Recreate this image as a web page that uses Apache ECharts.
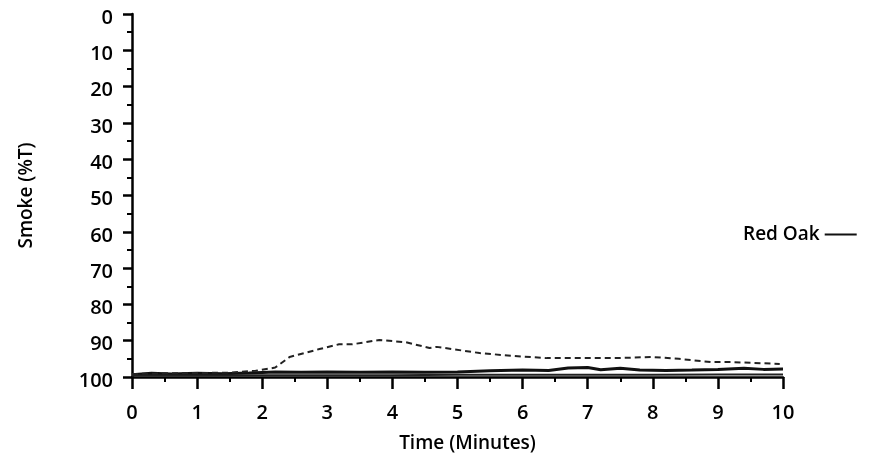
<!DOCTYPE html>
<html><head><meta charset="utf-8">
<script src="https://cdn.jsdelivr.net/npm/echarts@6/dist/echarts.min.js"></script>
<style>html,body{margin:0;padding:0;background:#fff}#c{width:887px;height:466px}</style>
</head><body><div id="c"></div>
<script>
var xTicks = [0,1,2,3,4,5,6,7,8,9,10];
var yTicks = [0,10,20,30,40,50,60,70,80,90,100];
var seriesName = 'Red Oak';
// solid line (Red Oak)
var solidX = [0,0.3,0.6,1,1.4,1.8,2.2,2.6,3,3.5,4,4.5,5,5.5,6,6.4,6.7,7,7.2,7.5,7.8,8.2,8.6,9,9.4,9.7,10];
var solidY = [99.4,99,99.2,99,99.1,98.9,98.6,98.7,98.6,98.7,98.6,98.7,98.6,98.3,98.1,98.2,97.5,97.4,98.0,97.6,98.1,98.2,98.1,97.9,97.6,97.9,97.8];
// second solid trace near baseline
var baseX = [0,1,2,3,4,5,6,7,8,9,10];
var baseY = [99.6,99.6,99.5,99.5,99.5,99.4,99.4,99.4,99.4,99.3,99.3];
// dashed line
var dashX = [0,0.5,1,1.5,1.9,2.2,2.42,2.88,3.18,3.38,3.8,4.2,4.57,4.68,5.34,5.85,6.37,7.0,7.4,8.0,8.4,8.9,9.2,9.95];
var dashY = [99.2,99,98.9,98.8,98.3,97.4,94.5,92.3,91,91,89.8,90.4,92,91.7,93.4,94.2,94.8,94.8,94.8,94.5,95,95.9,95.9,96.4];

function pairs(xs, ys){ return xs.map(function(x,i){return [x, ys[i]];}); }
var FONT = 'Open Sans';
var TXT = '#000';
var W = 600;
var chart = echarts.init(document.getElementById('c'));
chart.setOption({
  animation: false,
  backgroundColor: '#fff',
  grid: {left: 132, right: 104, top: 14, bottom: 89},
  legend: {
    data: [seriesName], left: 738, top: 220, align: 'right',
    icon: 'rect', itemWidth: 32, itemHeight: 2, itemGap: 6,
    textStyle: {fontFamily: FONT, fontSize: 19, fontWeight: W, color: TXT}
  },
  xAxis: {
    type: 'value', min: 0, max: 10, interval: 1, position: 'bottom',
    name: 'Time (Minutes)', nameLocation: 'middle', nameGap: 57,
    nameTextStyle: {fontFamily: FONT, fontSize: 19, fontWeight: W, color: TXT, padding: [0,0,0,20]},
    axisLine: {show: true, onZero: false, lineStyle: {color: '#000', width: 2.5}},
    axisTick: {show: true, length: 12, lineStyle: {color: '#000', width: 2.5}},
    minorTick: {show: true, splitNumber: 2, length: 5, lineStyle: {color: '#000', width: 2}},
    splitLine: {show: false},
    axisLabel: {margin: 26, fontFamily: FONT, fontSize: 20, fontWeight: W, color: TXT,
      formatter: function(v){ return xTicks.indexOf(v) >= 0 ? String(v) : ''; }}
  },
  yAxis: {
    type: 'value', min: 0, max: 100, interval: 10, inverse: true,
    name: 'Smoke (%T)', nameLocation: 'middle', nameGap: 96,
    nameTextStyle: {fontFamily: FONT, fontSize: 19, fontWeight: W, color: TXT},
    axisLine: {show: true, onZero: false, lineStyle: {color: '#000', width: 2.5}},
    axisTick: {show: true, length: 9, lineStyle: {color: '#000', width: 2.5}},
    minorTick: {show: true, splitNumber: 2, length: 5, lineStyle: {color: '#000', width: 2}},
    splitLine: {show: false},
    axisLabel: {margin: 19, color: TXT,
      formatter: function(v){ return yTicks.indexOf(v) >= 0 ? '{a|' + v + '}' : ''; },
      rich: {a: {fontFamily: FONT, fontSize: 20, fontWeight: W, color: TXT, padding: [8,0,0,0]}}}
  },
  series: [
    {name: seriesName, type: 'line', data: pairs(solidX, solidY), symbol: 'none',
     lineStyle: {color: '#111', width: 3}, itemStyle: {color: '#111'}},
    {name: 'base', type: 'line', data: pairs(baseX, baseY), symbol: 'none',
     lineStyle: {color: '#222', width: 2}, itemStyle: {color: '#222'}},
    {name: 'dashed', type: 'line', data: pairs(dashX, dashY), symbol: 'none',
     lineStyle: {color: '#222', width: 2, type: [6, 4]}, itemStyle: {color: '#222'}}
  ]
});
</script></body></html>
